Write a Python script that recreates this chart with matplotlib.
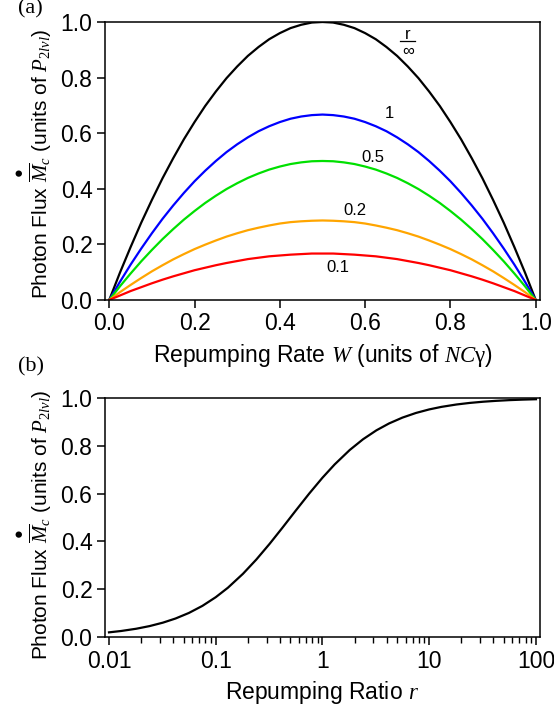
import numpy as np
import matplotlib
matplotlib.use("Agg")
import matplotlib.pyplot as plt

plt.rcParams['font.family'] = ['Liberation Sans', 'DejaVu Sans']
plt.rcParams['mathtext.fontset'] = 'custom'
plt.rcParams['mathtext.rm'] = 'Liberation Serif'
plt.rcParams['mathtext.it'] = 'Liberation Serif:italic'
plt.rcParams['mathtext.bf'] = 'Liberation Serif:bold'

# panel (a): photon flux vs repumping rate W, one curve per ratio r
w_rate = [0.0, 0.025, 0.05, 0.075, 0.1, 0.125, 0.15, 0.175, 0.2, 0.225, 0.25,
          0.275, 0.3, 0.325, 0.35, 0.375, 0.4, 0.425, 0.45, 0.475, 0.5,
          0.525, 0.55, 0.575, 0.6, 0.625, 0.65, 0.675, 0.7, 0.725, 0.75,
          0.775, 0.8, 0.825, 0.85, 0.875, 0.9, 0.925, 0.95, 0.975, 1.0]
flux_inf = [0.0, 0.098, 0.190, 0.278, 0.360, 0.438, 0.510, 0.578, 0.640, 0.698, 0.750,
            0.798, 0.840, 0.878, 0.910, 0.938, 0.960, 0.978, 0.990, 0.998, 1.000,
            0.998, 0.990, 0.978, 0.960, 0.938, 0.910, 0.878, 0.840, 0.798, 0.750,
            0.698, 0.640, 0.578, 0.510, 0.438, 0.360, 0.278, 0.190, 0.098, 0.0]
flux_r1 = [0.0, 0.065, 0.127, 0.185, 0.240, 0.292, 0.340, 0.385, 0.427, 0.465, 0.500,
           0.532, 0.560, 0.585, 0.607, 0.625, 0.640, 0.652, 0.660, 0.665, 0.667,
           0.665, 0.660, 0.652, 0.640, 0.625, 0.607, 0.585, 0.560, 0.532, 0.500,
           0.465, 0.427, 0.385, 0.340, 0.292, 0.240, 0.185, 0.127, 0.065, 0.0]
flux_r05 = [0.0, 0.049, 0.095, 0.139, 0.180, 0.219, 0.255, 0.289, 0.320, 0.349, 0.375,
            0.399, 0.420, 0.439, 0.455, 0.469, 0.480, 0.489, 0.495, 0.499, 0.500,
            0.499, 0.495, 0.489, 0.480, 0.469, 0.455, 0.439, 0.420, 0.399, 0.375,
            0.349, 0.320, 0.289, 0.255, 0.219, 0.180, 0.139, 0.095, 0.049, 0.0]
flux_r02 = [0.0, 0.028, 0.054, 0.079, 0.103, 0.125, 0.146, 0.165, 0.183, 0.199, 0.214,
            0.228, 0.240, 0.251, 0.260, 0.268, 0.275, 0.280, 0.283, 0.285, 0.286,
            0.285, 0.283, 0.280, 0.275, 0.268, 0.260, 0.251, 0.240, 0.228, 0.214,
            0.199, 0.183, 0.165, 0.146, 0.125, 0.103, 0.079, 0.054, 0.028, 0.0]
flux_r01 = [0.0, 0.016, 0.032, 0.046, 0.060, 0.073, 0.085, 0.096, 0.107, 0.116, 0.125,
            0.133, 0.140, 0.147, 0.152, 0.157, 0.160, 0.163, 0.165, 0.167, 0.167,
            0.167, 0.165, 0.163, 0.160, 0.157, 0.152, 0.147, 0.140, 0.133, 0.125,
            0.116, 0.107, 0.096, 0.085, 0.073, 0.060, 0.046, 0.032, 0.016, 0.0]
curve_labels = ['1', '0.5', '0.2', '0.1']

# panel (b): peak flux vs repumping ratio r
ratio_r = [0.01, 0.013, 0.018, 0.024, 0.032, 0.042, 0.056, 0.075, 0.1, 0.13, 0.18,
           0.24, 0.32, 0.42, 0.56, 0.75, 1, 1.3, 1.8, 2.4, 3.2, 4.2, 5.6, 7.5, 10,
           13, 18, 24, 32, 42, 56, 75, 100]
flux_peak = [0.0196, 0.0253, 0.0347, 0.0458, 0.0602, 0.0775, 0.1007, 0.1304, 0.1667,
             0.2063, 0.2647, 0.3243, 0.3902, 0.4565, 0.5283, 0.6, 0.6667, 0.7222,
             0.7826, 0.8276, 0.8649, 0.8936, 0.918, 0.9375, 0.9524, 0.963, 0.973,
             0.9796, 0.9846, 0.9882, 0.9912, 0.9934, 0.995]

ylab = r'Photon Flux $\overset{●}{\overline{M}}_c$ (units of $P_{2lvl}$)'

fig = plt.figure(figsize=(5.54, 7.19), dpi=100)
ax1 = fig.add_axes([0.1895, 0.5828, 0.7852, 0.3866])
ax2 = fig.add_axes([0.1895, 0.1140, 0.7852, 0.3324])

def style_ax(ax):
    for s in ax.spines.values():
        s.set_linewidth(1.1)
    ax.tick_params(which='major', direction='out', length=6, width=1.1,
                   labelsize=16.5, pad=3, top=False, right=False)
    ax.tick_params(which='minor', direction='out', length=4, width=1.0,
                   top=False, right=False)

lw = 1.6
ax1.plot(w_rate, flux_inf, color='black', lw=lw)
ax1.plot(w_rate, flux_r1, color='#0000ff', lw=lw)
ax1.plot(w_rate, flux_r05, color='#00e000', lw=lw)
ax1.plot(w_rate, flux_r02, color='#ffa500', lw=lw)
ax1.plot(w_rate, flux_r01, color='#ff0000', lw=lw)
ax1.set_xlim(-0.01, 1.01)
ax1.set_ylim(0, 1.0)
ax1.set_xticks([0, 0.2, 0.4, 0.6, 0.8, 1.0])
ax1.set_yticks([0, 0.2, 0.4, 0.6, 0.8, 1.0])
ax1.xaxis.set_major_formatter(plt.FormatStrFormatter('%.1f'))
ax1.yaxis.set_major_formatter(plt.FormatStrFormatter('%.1f'))
style_ax(ax1)
ax1.set_xlabel(r'Repumping Rate $W$ (units of $NC\mathrm{\gamma}$)', fontsize=16.5, labelpad=5)
ax1.set_ylabel(ylab, fontsize=15, labelpad=5)
ax1.yaxis.label.set_y(0.49)

for txt, (x, y) in zip(curve_labels, [(0.657, 0.671), (0.617, 0.513), (0.575, 0.321), (0.535, 0.116)]):
    ax1.text(x, y, txt, fontsize=12, ha='center', va='center')
ax1.text(0.700, 0.955, 'r', fontsize=12, ha='center', va='center')
ax1.plot([0.682, 0.716], [0.932, 0.932], color='black', lw=0.9)
ax1.text(0.700, 0.895, '∞', fontsize=12, ha='center', va='center')

ax2.plot(ratio_r, flux_peak, color='black', lw=lw)
ax2.set_xscale('log')
ax2.set_xlim(0.01 / 10**0.0376, 100 * 10**0.0376)
ax2.set_ylim(0, 1.0)
ax2.set_xticks([0.01, 0.1, 1, 10, 100])
ax2.set_xticklabels(['0.01', '0.1', '1', '10', '100'])
ax2.set_yticks([0, 0.2, 0.4, 0.6, 0.8, 1.0])
ax2.yaxis.set_major_formatter(plt.FormatStrFormatter('%.1f'))
style_ax(ax2)
ax2.set_xlabel(r'Repumping Ratio $r$', fontsize=16.5, labelpad=5)
ax2.set_ylabel(ylab, fontsize=15, labelpad=5)
ax2.yaxis.label.set_y(0.47)

fig.text(0.032, 0.987, '(a)', fontsize=16, family='Liberation Serif', ha='left', va='center')
fig.text(0.032, 0.490, '(b)', fontsize=16, family='Liberation Serif', ha='left', va='center')

fig.savefig('out.png', dpi=100)
